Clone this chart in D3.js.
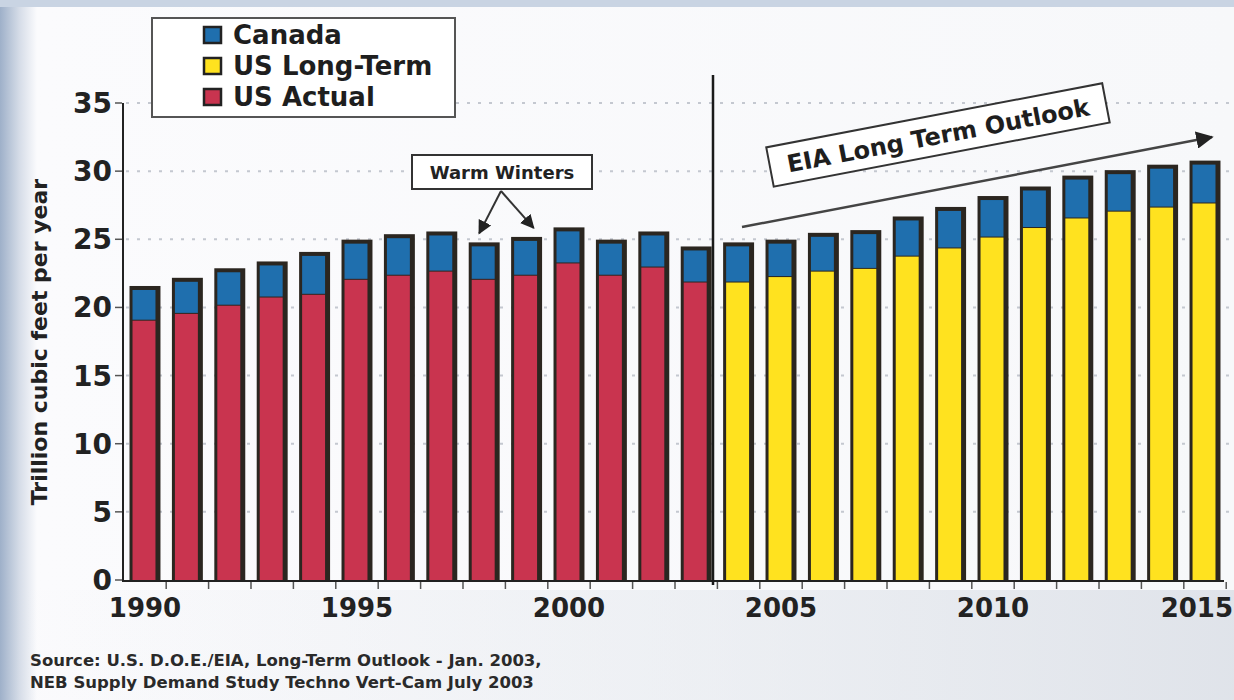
<!DOCTYPE html>
<html>
<head>
<meta charset="utf-8">
<script src="https://cdn.jsdelivr.net/npm/d3@7"></script>
<style>
  body { margin: 0; background: #fff; }
  svg { display: block; font-family: "DejaVu Sans", Verdana, sans-serif; font-weight: bold; }
</style>
</head>
<body>
<svg id="chart" width="1234" height="700"></svg>
<script>
// data (trillion cubic feet per year)
var years = [1990, 1991, 1992, 1993, 1994, 1995, 1996, 1997, 1998, 1999, 2000, 2001, 2002,
  2003, 2004, 2005, 2006, 2007, 2008, 2009, 2010, 2011, 2012, 2013, 2014, 2015];
var usActual = [19.1, 19.6, 20.2, 20.8, 21.0, 22.1, 22.4, 22.7, 22.1, 22.4, 23.3, 22.4, 23.0, 21.9];
var usLongTerm = [21.9, 22.3, 22.7, 22.9, 23.8, 24.4, 25.2, 25.9, 26.6, 27.1, 27.4, 27.7];
var canada = [2.4, 2.5, 2.6, 2.5, 3.0, 2.8, 2.9, 2.8, 2.6, 2.7, 2.5, 2.5, 2.5,
  2.5, 2.8, 2.6, 2.7, 2.7, 2.8, 2.9, 2.9, 2.9, 3.0, 2.9, 3.0, 3.0];
var yTicks = [0, 5, 10, 15, 20, 25, 30, 35];
var xLabels = [1990, 1995, 2000, 2005, 2010, 2015];
var legendNames = ["Canada", "US Long-Term", "US Actual"];
var legendColors = ["#1f6fae", "#ffe21f", "#c9344f"];

var colCanada = legendColors[0], colLong = legendColors[1], colActual = legendColors[2];

var rows = years.map(function (yr, i) {
  var actual = i < usActual.length;
  return {
    year: yr,
    us: actual ? usActual[i] : usLongTerm[i - usActual.length],
    canada: canada[i],
    actual: actual
  };
});

var svg = d3.select("#chart");

// background, slightly bluish on the left edge like the scan
var defs = svg.append("defs");
var g1 = defs.append("linearGradient").attr("id", "bgLeft").attr("x1", 0).attr("x2", 1);
g1.append("stop").attr("offset", "0%").attr("stop-color", "#9eb0c9");
g1.append("stop").attr("offset", "1.6%").attr("stop-color", "#d6dde8");
g1.append("stop").attr("offset", "3%").attr("stop-color", "#fbfbfd");
g1.append("stop").attr("offset", "100%").attr("stop-color", "#f7f8fa");
var g2 = defs.append("linearGradient").attr("id", "bgBottom").attr("x1", 0).attr("x2", 1).attr("y1", 0).attr("y2", 0);
g2.append("stop").attr("offset", "0%").attr("stop-color", "#e2e6ec").attr("stop-opacity", 0);
g2.append("stop").attr("offset", "55%").attr("stop-color", "#e2e6ec").attr("stop-opacity", 0.5);
g2.append("stop").attr("offset", "100%").attr("stop-color", "#dde1e8").attr("stop-opacity", 0.9);
svg.append("rect").attr("width", 1234).attr("height", 700).attr("fill", "url(#bgLeft)");
svg.append("rect").attr("x", 0).attr("y", 590).attr("width", 1234).attr("height", 110).attr("fill", "url(#bgBottom)");
svg.append("rect").attr("width", 1234).attr("height", 7).attr("fill", "#c9d4e3");

defs.append("marker").attr("id", "arrow").attr("viewBox", "0 0 10 10")
  .attr("refX", 9).attr("refY", 5).attr("markerWidth", 7).attr("markerHeight", 7)
  .attr("orient", "auto").append("path").attr("d", "M0,0L10,5L0,10z").attr("fill", "#222");

// scales
var x = d3.scaleBand().domain(years).range([124, 1226]).paddingInner(0.27).paddingOuter(0.13);
var y = d3.scaleLinear().domain([0, 35]).range([580, 103]);

// dotted grid
svg.append("g").selectAll("line").data(yTicks.slice(1)).enter().append("line")
  .attr("x1", 126).attr("x2", 1234)
  .attr("y1", function (d) { return y(d); }).attr("y2", function (d) { return y(d); })
  .attr("stroke", "#c4c8d0").attr("stroke-width", 2).attr("stroke-dasharray", "3,8");

// bars
var stack = d3.stack().keys(["us", "canada"])(rows);
var bw = x.bandwidth();
var bars = svg.append("g");
bars.selectAll("rect.outline").data(rows).enter().append("rect")
  .attr("x", function (d) { return x(d.year); })
  .attr("y", function (d) { return y(d.us + d.canada) - 1; })
  .attr("width", bw)
  .attr("height", function (d) { return y(0) - y(d.us + d.canada) + 1; })
  .attr("fill", "#2b2620");

stack.forEach(function (layer) {
  bars.selectAll(null).data(layer).enter().append("rect")
    .attr("x", function (d) { return x(d.data.year) + 3; })
    .attr("y", function (d) { return y(d[1]) + (layer.key === "canada" ? 3 : 1); })
    .attr("width", bw - 8)
    .attr("height", function (d) { return y(d[0]) - y(d[1]) - (layer.key === "canada" ? 3 : 1); })
    .attr("fill", function (d) {
      if (layer.key === "canada") return colCanada;
      return d.data.actual ? colActual : colLong;
    });
});

// axes
var axisG = svg.append("g");
axisG.append("line").attr("x1", 123).attr("x2", 123).attr("y1", y(35)).attr("y2", y(0) + 2)
  .attr("stroke", "#222").attr("stroke-width", 2);
axisG.append("line").attr("x1", 122).attr("x2", 1224).attr("y1", y(0) + 1).attr("y2", y(0) + 1)
  .attr("stroke", "#222").attr("stroke-width", 2);

axisG.selectAll("line.yt").data(yTicks).enter().append("line")
  .attr("x1", 115).attr("x2", 122)
  .attr("y1", function (d) { return y(d); }).attr("y2", function (d) { return y(d); })
  .attr("stroke", "#555").attr("stroke-width", 1.5);
axisG.selectAll("text.yl").data(yTicks).enter().append("text")
  .attr("x", 112).attr("y", function (d) { return y(d) + 10; })
  .attr("text-anchor", "end").attr("font-size", 28).attr("fill", "#222")
  .text(function (d) { return d; });

var step = x.step();
axisG.selectAll("line.xt").data(years).enter().append("line")
  .attr("x1", function (d) { return x(d) + bw + (step - bw) / 2; })
  .attr("x2", function (d) { return x(d) + bw + (step - bw) / 2; })
  .attr("y1", y(0) + 2).attr("y2", y(0) + 9)
  .attr("stroke", "#555").attr("stroke-width", 1.5);
axisG.selectAll("text.xl").data(xLabels).enter().append("text")
  .attr("x", function (d, i) { return i === xLabels.length - 1 ? 1233 : x(d) + bw / 2; })
  .attr("y", 617)
  .attr("text-anchor", function (d, i) { return i === xLabels.length - 1 ? "end" : "middle"; })
  .attr("font-size", 26).attr("fill", "#222")
  .text(function (d) { return d; });

svg.append("text")
  .attr("transform", "translate(47,342) rotate(-90)")
  .attr("text-anchor", "middle").attr("font-size", 22).attr("fill", "#222")
  .text("Trillion cubic feet per year");

// actual / outlook divider
svg.append("line").attr("x1", 713).attr("x2", 713).attr("y1", 75).attr("y2", 585)
  .attr("stroke", "#1a1a1a").attr("stroke-width", 2.5);

// legend
var lg = svg.append("g");
lg.append("rect").attr("x", 152).attr("y", 18).attr("width", 303).attr("height", 99)
  .attr("fill", "#fff").attr("stroke", "#555").attr("stroke-width", 2);
legendNames.forEach(function (name, i) {
  var cy = 35 + i * 31;
  lg.append("rect").attr("x", 204).attr("y", cy - 8).attr("width", 17).attr("height", 16)
    .attr("fill", legendColors[i]).attr("stroke", "#222").attr("stroke-width", 2.5);
  lg.append("text").attr("x", 233).attr("y", cy + 9).attr("font-size", 26).attr("fill", "#1e1e1e")
    .text(name);
});

// warm winters note
svg.append("rect").attr("x", 412).attr("y", 155).attr("width", 180).attr("height", 34)
  .attr("fill", "#fff").attr("stroke", "#333").attr("stroke-width", 2);
svg.append("text").attr("x", 502).attr("y", 179).attr("text-anchor", "middle")
  .attr("font-size", 18).attr("fill", "#222").text("Warm Winters");
[1998, 1999].forEach(function (yr, i) {
  svg.append("line").attr("x1", 501).attr("y1", 191)
    .attr("x2", x(yr) + bw / 2 + (i ? 7 : -5)).attr("y2", y(rows[years.indexOf(yr)].us + rows[years.indexOf(yr)].canada) - 10)
    .attr("stroke", "#333").attr("stroke-width", 2).attr("marker-end", "url(#arrow)");
});

// EIA outlook label and trend arrow
var eia = svg.append("g").attr("transform", "translate(770,167) rotate(-10.8)");
eia.append("rect").attr("x", 0).attr("y", -20).attr("width", 342).attr("height", 40)
  .attr("fill", "#fff").attr("stroke", "#333").attr("stroke-width", 2);
eia.append("text").attr("x", 171).attr("y", 9).attr("text-anchor", "middle")
  .attr("font-size", 24).attr("fill", "#1e1e1e").text("EIA Long Term Outlook");
svg.append("line").attr("x1", 742).attr("y1", 227).attr("x2", 1212).attr("y2", 137)
  .attr("stroke", "#444").attr("stroke-width", 2.5).attr("marker-end", "url(#arrow)");

// source note
var src = svg.append("text").attr("x", 30).attr("font-size", 16.5).attr("fill", "#2a2a2a");
src.append("tspan").attr("x", 30).attr("y", 666).text("Source: U.S. D.O.E./EIA, Long-Term Outlook - Jan. 2003,");
src.append("tspan").attr("x", 30).attr("y", 688).text("NEB Supply Demand Study Techno Vert-Cam July 2003");
</script>
</body>
</html>
